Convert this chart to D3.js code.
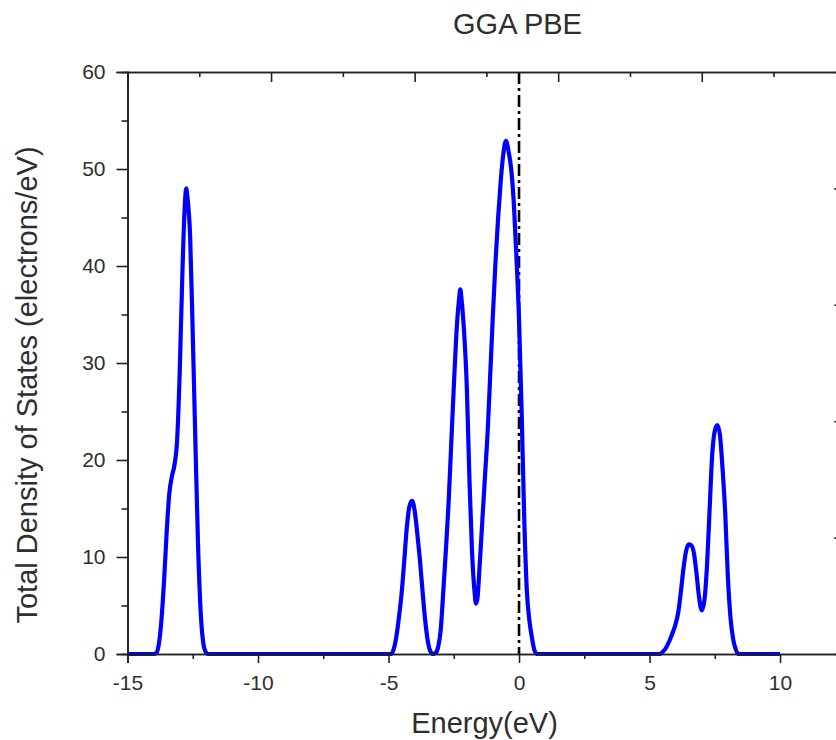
<!DOCTYPE html>
<html>
<head>
<meta charset="utf-8">
<script src="https://cdn.jsdelivr.net/npm/d3@7"></script>
<style>
  html, body { margin: 0; padding: 0; background: #fff; overflow: hidden; }
  svg { display: block; font-family: "Liberation Sans", Arial, sans-serif; }
</style>
</head>
<body>
<svg id="chart" width="836" height="740"></svg>
<script>
// ---- data ----
const energy = [-15.0,-14.0,-13.9,-13.8,-13.7,-13.6,-13.5,-13.4,-13.3,-13.2,-13.1,-13.0,-12.9,-12.8,-12.75,-12.7,-12.6,-12.5,-12.4,-12.3,-12.2,-12.1,-12.0,-11.9,
  -4.9,-4.8,-4.7,-4.6,-4.5,-4.4,-4.3,-4.2,-4.1,-4.0,-3.9,-3.8,-3.7,-3.6,-3.5,-3.4,-3.3,-3.2,-3.1,-3.0,-2.9,-2.8,-2.7,-2.6,-2.5,-2.4,-2.3,-2.25,-2.2,-2.1,-2.0,-1.9,-1.8,-1.7,-1.65,-1.6,-1.5,-1.4,-1.3,-1.2,-1.1,-1.0,-0.9,-0.8,-0.7,-0.6,-0.5,-0.4,-0.3,-0.2,-0.1,0.0,0.1,0.2,0.3,0.4,0.5,0.6,0.7,
  5.4,5.5,5.6,5.7,5.8,5.9,6.0,6.1,6.2,6.3,6.4,6.5,6.6,6.7,6.8,6.9,7.0,7.1,7.2,7.3,7.4,7.5,7.6,7.7,7.8,7.9,8.0,8.1,8.2,8.3,8.4,10.0];
const dos = [0,0,0.1,1.0,3.5,7.5,12.5,16.5,18.3,19.5,22,29,39,46.5,48,47,43,33,22,11.5,4.5,1.2,0.2,0,
  0,0.5,1.8,3.8,6.2,9.5,13,15.2,15.8,14.8,12.5,9.8,6.6,3.6,1.4,0.3,0,0.1,0.7,2.5,6.5,10.8,15.5,21.5,27.5,33,36.5,37.6,36.5,33,27.5,18,10.5,6.3,5.2,5.6,9.5,14,18.5,23,29,35,40.5,45,48.8,51.6,52.9,51.8,50,46.5,41,34.5,25,14,6.5,3.4,1.6,0.3,0,
  0,0.2,0.5,1.0,1.6,2.3,3.1,4.3,6.4,8.8,10.6,11.3,11.2,10.4,8.3,5.8,4.5,5.5,9,14.8,20.5,23,23.6,22.5,19,14.5,8,3.8,1.6,0.5,0,0];
const xMajorTicks = [-15,-10,-5,0,5,10];
const xMinorTicks = [-12.5,-7.5,-2.5,2.5,7.5];
const yMajorTicks = [0,10,20,30,40,50,60];
const yMinorTicks = [5,15,25,35,45,55];
const topMajorTicks = [2,4,6,8];
const topMinorTicks = [1,3,5,7,9];
const rightMajorTicks = [1,2,3,4];
const rightMinorTicks = [0.5,1.5,2.5,3.5,4.5];
const fermiLevel = 0;
const title = "GGA PBE";
const xTitle = "Energy(eV)";
const yTitle = "Total Density of States (electrons/eV)";

// ---- layout ----
const L = 127.5, R = 845.3, T = 72, B = 654;
const svg = d3.select("#chart");
const x = d3.scaleLinear().domain([-15, 12.5]).range([L, R]);
const y = d3.scaleLinear().domain([0, 60]).range([B, T]);
const xTop = d3.scaleLinear().domain([0, 10]).range([L, R]);
const yRight = d3.scaleLinear().domain([0, 5]).range([B, T]);
const axisColor = "#222";
const textColor = "#2e2e2e";

svg.append("defs").append("clipPath").attr("id", "plotclip")
  .append("rect").attr("x", L).attr("y", T - 2).attr("width", R - L).attr("height", B - T + 4);

// Fermi level line
svg.append("line")
  .attr("x1", x(fermiLevel)).attr("x2", x(fermiLevel))
  .attr("y1", T).attr("y2", B)
  .attr("stroke", "#000").attr("stroke-width", 2.6)
  .attr("stroke-dasharray", "12,4,3,4");

// DOS curve
const pts = energy.map((e, i) => [e, dos[i]]);
svg.append("path")
  .datum(pts)
  .attr("clip-path", "url(#plotclip)")
  .attr("fill", "none")
  .attr("stroke", "#0000ff")
  .attr("stroke-width", 4.2)
  .attr("stroke-linejoin", "round")
  .attr("d", d3.line().x(d => x(d[0])).y(d => y(d[1])).curve(d3.curveMonotoneX));

function styleAxis(g) {
  g.selectAll("path.domain").attr("stroke", axisColor).attr("stroke-width", 1.6);
  g.selectAll(".tick line").attr("stroke", axisColor).attr("stroke-width", 1.6);
  g.selectAll(".tick text").attr("fill", textColor).style("font-size", "21px")
    .style("font-family", "'Liberation Sans', Arial, sans-serif");
}

// bottom axis
const gb = svg.append("g").attr("transform", `translate(0,${B})`)
  .call(d3.axisBottom(x).tickValues(xMajorTicks).tickSize(9).tickPadding(12).tickFormat(d3.format("d")));
styleAxis(gb);
gb.selectAll(".tick text").text(d => d < 0 ? "-" + Math.abs(d) : d);
const gbm = svg.append("g").attr("transform", `translate(0,${B})`)
  .call(d3.axisBottom(x).tickValues(xMinorTicks).tickSize(5).tickFormat(""));
styleAxis(gbm);

// left axis
const gl = svg.append("g").attr("transform", `translate(${L},0)`)
  .call(d3.axisLeft(y).tickValues(yMajorTicks).tickSize(11).tickPadding(11));
styleAxis(gl);
const glm = svg.append("g").attr("transform", `translate(${L},0)`)
  .call(d3.axisLeft(y).tickValues(yMinorTicks).tickSize(6).tickFormat(""));
styleAxis(glm);

// top axis (inward ticks)
const gt = svg.append("g").attr("transform", `translate(0,${T})`)
  .call(d3.axisTop(xTop).tickValues(topMajorTicks).tickSize(-10).tickFormat(""));
styleAxis(gt);
const gtm = svg.append("g").attr("transform", `translate(0,${T})`)
  .call(d3.axisTop(xTop).tickValues(topMinorTicks).tickSize(-5).tickFormat(""));
styleAxis(gtm);

// right axis (inward ticks)
const gr = svg.append("g").attr("transform", `translate(${R},0)`)
  .call(d3.axisRight(yRight).tickValues(rightMajorTicks).tickSize(-11).tickFormat(""));
styleAxis(gr);
const grm = svg.append("g").attr("transform", `translate(${R},0)`)
  .call(d3.axisRight(yRight).tickValues(rightMinorTicks).tickSize(-5).tickFormat(""));
styleAxis(grm);

// titles
svg.append("text").attr("x", 517.5).attr("y", 34).attr("text-anchor", "middle")
  .attr("fill", textColor).style("font-size", "29px").text(title);
svg.append("text").attr("x", 484.5).attr("y", 733).attr("text-anchor", "middle")
  .attr("fill", textColor).style("font-size", "29px").text(xTitle);
svg.append("text").attr("transform", "translate(37,385) rotate(-90)")
  .attr("text-anchor", "middle")
  .attr("fill", textColor).style("font-size", "29px").text(yTitle);
</script>
</body>
</html>
